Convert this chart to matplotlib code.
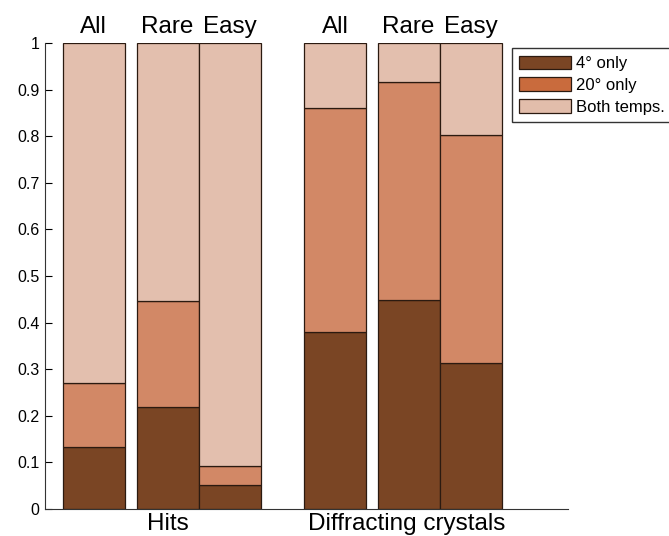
import numpy as np
import matplotlib.pyplot as plt
from matplotlib.patches import Patch

plt.rcParams['font.family'] = ['Liberation Sans', 'DejaVu Sans']

# Data (fractions)
bar_labels = ["All", "Rare", "Easy", "All", "Rare", "Easy"]
group_labels = ["Hits", "Diffracting crystals"]
only_4 = np.array([0.133, 0.218, 0.051, 0.380, 0.448, 0.313])
only_20 = np.array([0.137, 0.229, 0.041, 0.481, 0.468, 0.490])
both = 1 - only_4 - only_20
series_names = ["4\u00b0 only", "20\u00b0 only", "Both temps."]

# bar layout (x units of one bar width)
xpos = np.array([0.79, 1.98, 2.98, 4.68, 5.87, 6.87])
group_x = [1.98, 5.84]
bar_colors = ["#7a4524", "#d28866", "#e3bfae"]
legend_colors = ["#7a4524", "#c96b3d", "#e2bdab"]

fig = plt.figure(figsize=(6.69, 5.36), dpi=100)
ax = fig.add_axes([0.067, 0.0504, 0.782, 0.8694])

bottom = np.zeros(len(xpos))
for vals, col in zip([only_4, only_20, both], bar_colors):
    ax.bar(xpos, vals, width=1.0, bottom=bottom, color=col,
           edgecolor="#2b1a10", linewidth=0.9)
    bottom += vals

ax.set_xlim(0, 8.44)
ax.set_ylim(0, 1)
ax.set_yticks(np.arange(0, 1.01, 0.1))
ax.set_yticklabels(["0"] + [f"{v:.1f}" for v in np.arange(0.1, 1.0, 0.1)] + ["1"])
ax.set_xticks([])
ax.tick_params(axis='y', direction='in', length=5, labelsize=11.5, pad=4)
for s in ["top", "right"]:
    ax.spines[s].set_visible(False)
ax.spines["left"].set_color("#333333")
ax.spines["bottom"].set_color("#333333")

for x, lab in zip(xpos, bar_labels):
    ax.text(x, 1.022, lab, ha="center", va="baseline", fontsize=17.5,
            transform=ax.get_xaxis_transform())
for x, lab in zip(group_x, group_labels):
    ax.text(x, -0.046, lab, ha="center", va="baseline", fontsize=17.5,
            transform=ax.get_xaxis_transform())

handles = [Patch(facecolor=c, edgecolor="#2b1a10", linewidth=0.9) for c in legend_colors]
fig.legend(handles, series_names, loc="upper left", bbox_to_anchor=(0.765, 0.910),
           fontsize=12, fancybox=False, edgecolor="#333333", framealpha=1,
           handlelength=3.1, handleheight=0.85, handletextpad=0.3,
           borderpad=0.45, labelspacing=0.38, borderaxespad=0)

fig.savefig("out.png", dpi=100)
